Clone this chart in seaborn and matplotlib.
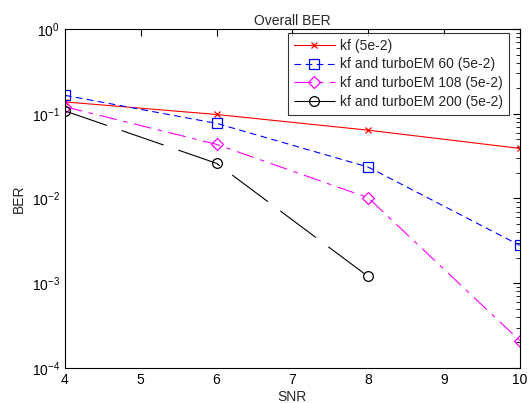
import numpy as np
import pandas as pd
import matplotlib
matplotlib.use("Agg")
import matplotlib.pyplot as plt
import seaborn as sns

sns.set_theme(style="white")
plt.rcParams['font.family'] = ['Liberation Sans', 'DejaVu Sans']
plt.rcParams['mathtext.fontset'] = 'custom'
plt.rcParams['mathtext.rm'] = 'Liberation Sans'

snr_kf = [4, 6, 8, 10]
ber_kf = [0.138, 0.098, 0.064, 0.039]

snr_em60 = [4, 6, 8, 10]
ber_em60 = [0.165, 0.077, 0.0235, 0.0028]

snr_em108 = [4, 6, 8, 10]
ber_em108 = [0.121, 0.0435, 0.0102, 0.00021]

snr_em200 = [4, 6, 8]
ber_em200 = [0.108, 0.026, 0.0012]

labels = ["kf (5e-2)", "kf and turboEM 60 (5e-2)",
          "kf and turboEM 108 (5e-2)", "kf and turboEM 200 (5e-2)"]

fig = plt.figure(figsize=(5.32, 4.03), dpi=100)
ax = fig.add_axes([0.122, 0.087, 0.855, 0.841])

series = [
    (snr_kf, ber_kf, dict(color="#ff0000", linestyle="-", marker="x", markersize=4)),
    (snr_em60, ber_em60, dict(color="#0000ff", linestyle=(0, (6, 4)), marker="s",
                              markersize=7, markerfacecolor="none")),
    (snr_em108, ber_em108, dict(color="#ff00ff", linestyle=(0, (16, 6, 4, 6)), marker="D",
                                markersize=6, markerfacecolor="none")),
    (snr_em200, ber_em200, dict(color="#000000", linestyle=(0, (40, 14)), marker="o",
                                markersize=7, markerfacecolor="none")),
]

for (x, y, kw), lab in zip(series, labels):
    df = pd.DataFrame({"SNR": x, "BER": y})
    sns.lineplot(data=df, x="SNR", y="BER", ax=ax, label=lab, linewidth=0.8,
                 markeredgewidth=0.9, markeredgecolor=kw["color"], **kw)

ax.set_yscale("log")
ax.set_xlim(4, 10)
ax.set_ylim(1e-4, 1)
ax.set_xticks([4, 5, 6, 7, 8, 9, 10])
ax.set_xticklabels(["4", "5", "6", "7", "8", "9", "10"])
ax.set_yticks([1e-4, 1e-3, 1e-2, 1e-1, 1])
ax.set_yticklabels([r"$10^{-4}$", r"$10^{-3}$", r"$10^{-2}$", r"$10^{-1}$", r"$10^{0}$"])
ax.yaxis.set_minor_locator(matplotlib.ticker.LogLocator(base=10, subs=np.arange(2, 10)))
ax.yaxis.set_minor_formatter(matplotlib.ticker.NullFormatter())
ax.tick_params(axis="both", which="both", direction="in", top=True, right=True,
               labelsize=10, colors="black")
ax.tick_params(which="major", length=5, width=0.8)
ax.tick_params(which="minor", length=3, width=0.6)
for s in ax.spines.values():
    s.set_color("black")
    s.set_linewidth(0.8)

ax.set_xlabel("SNR", fontsize=10, labelpad=2)
ax.set_ylabel("BER", fontsize=10, labelpad=4)
ax.set_title("Overall BER", fontsize=10, pad=3)
ax.grid(False)

leg = ax.legend(loc="upper right", bbox_to_anchor=(0.976, 0.988), fontsize=10,
                frameon=True, fancybox=False, edgecolor="black", borderaxespad=0,
                handlelength=2.95, handletextpad=0.4, labelspacing=0.35, borderpad=0.4)
leg.get_frame().set_linewidth(0.8)

fig.savefig("out.png", dpi=100, facecolor="white")
